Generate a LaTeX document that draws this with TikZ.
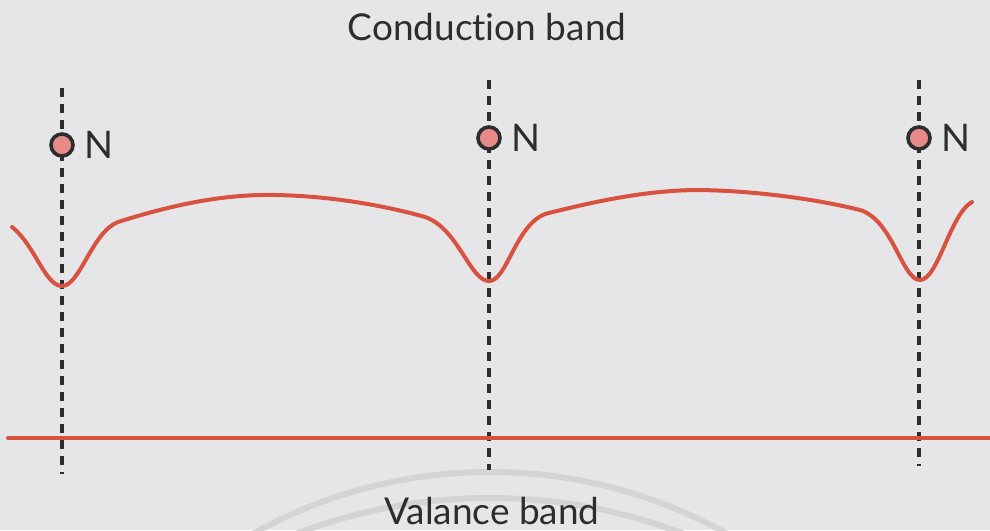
\documentclass[tikz,border=0pt]{standalone}
\usepackage{fontspec}
\setmainfont{Lato}[Ligatures=NoCommon]
\definecolor{bg}{HTML}{E6E6E8}
\definecolor{bandred}{HTML}{D8523F}
\definecolor{txt}{HTML}{2B2D2F}
\definecolor{wm}{HTML}{D4D4D7}
\definecolor{dotpink}{HTML}{E8898A}
\tikzset{
  dashline/.style={line width=2.4pt, dash pattern=on 4.5pt off 3.5pt, draw=txt},
  redline/.style={line width=2pt, draw=bandred, line cap=round},
  impurity/.style={circle, minimum size=11pt, inner sep=0pt, draw=txt, line width=1.8pt, fill=dotpink},
  lbl/.style={text=txt, font=\fontsize{18.5}{22}\selectfont},
  nlbl/.style={text=txt, font=\fontsize{19}{22}\selectfont, anchor=west}
}
\begin{document}
\begin{tikzpicture}[x=0.5pt,y=-0.5pt]
\fill[bg] (0,0) rectangle (990,530);
\useasboundingbox (0,0) rectangle (990,530);
% watermark arcs
\begin{scope}
\clip (0,0) rectangle (990,530);
\draw[wm, line width=3pt] (490,957) circle (485);
\draw[wm, line width=3pt] (490,1037) circle (539);
\end{scope}
% dashed lines
\coordinate (d1t) at (62,88);  \coordinate (d1b) at (62,474);
\coordinate (d2t) at (489,80); \coordinate (d2b) at (489,470);
\coordinate (d3t) at (919,80); \coordinate (d3b) at (919,466);
\draw[dashline] (d1t) -- (d1b);
\draw[dashline] (d2t) -- (d2b);
\draw[dashline] (d3t) -- (d3b);
% valence band line
\coordinate (vl) at (8,438); \coordinate (vr) at (990,438);
\draw[redline] (vl) -- (vr);
% conduction band edge curve
\draw[redline]
 (12,227) .. controls (35,245) and (45,286) .. (62,286)
 .. controls (80,286) and (92,232) .. (118,222)
 .. controls (175,204) and (225,194) .. (275,195)
 .. controls (335,196) and (390,207) .. (425,217)
 .. controls (458,228) and (470,281) .. (489,281)
 .. controls (507,281) and (515,226) .. (545,214)
 .. controls (600,200) and (650,190) .. (700,190)
 .. controls (760,191) and (820,200) .. (860,210)
 .. controls (893,220) and (902,280) .. (920,280)
 .. controls (938,280) and (950,214) .. (972,202);
% impurity levels
\node[impurity] (n1) at (62,145) {};
\node[impurity] (n2) at (489,138) {};
\node[impurity] (n3) at (919,138) {};
\node[nlbl] (l1) at (77,145) {N};
\node[nlbl] (l2) at (504,138) {N};
\node[nlbl] (l3) at (934,138) {N};
% band labels
\node[lbl] (cb) at (487,27) {Conduction band};
\node[lbl] (vb) at (492,511) {Valance band};
\end{tikzpicture}
\end{document}
